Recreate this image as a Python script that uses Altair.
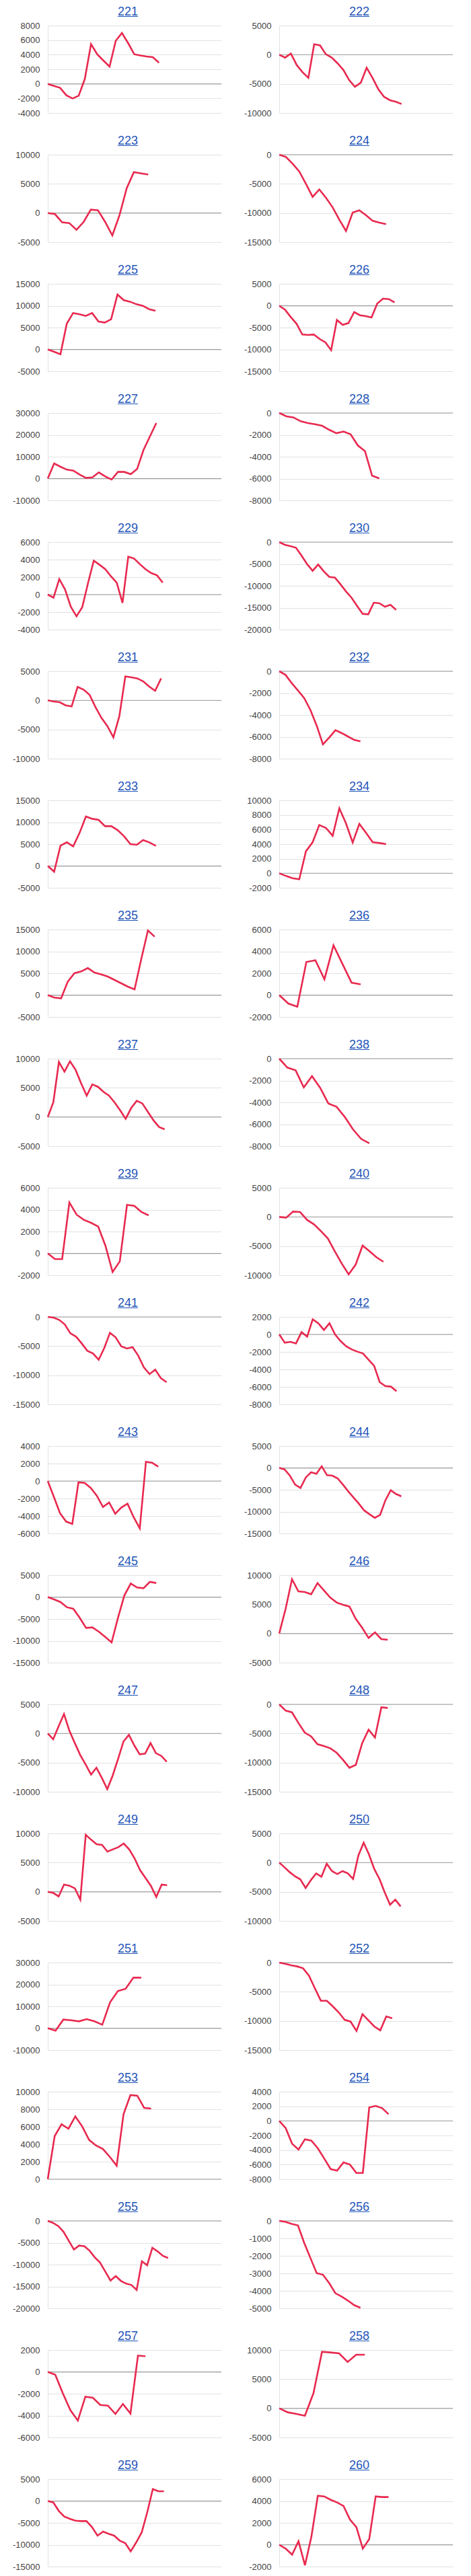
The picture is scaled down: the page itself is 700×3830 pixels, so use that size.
import altair as alt
import pandas as pd

panel_ids = list(range(221, 261))

s221 = [0, -280, -550, -1570, -2000, -1630, 680, 5450, 4060, 3200, 2370, 5900, 6980, 5600, 4060, 3900, 3750, 3660, 2900]
s222 = [0, -500, 190, -1770, -3000, -3960, 1800, 1600, 80, -500, -1460, -2600, -4350, -5500, -4800, -2230, -3960, -5900, -7230, -7800, -8080, -8460]
s223 = [0, -190, -1600, -1730, -2880, -1540, 580, 460, -1540, -3850, -380, 4230, 7000, 6800, 6600]
s224 = [0, -385, -1540, -2880, -5000, -7230, -5960, -7380, -9040, -11150, -13080, -9920, -9540, -10380, -11350, -11650, -11920]
s225 = [0, -540, -1100, 5870, 8330, 8030, 7670, 8330, 6380, 6130, 6900, 12540, 11260, 10900, 10330, 9970, 9200, 8850]
s226 = [0, -900, -2590, -4130, -6590, -6690, -6590, -7620, -8380, -10180, -3260, -4380, -3970, -1460, -2180, -2380, -2690, 490, 1620, 1510, 740]
s227 = [0, 6920, 5380, 4050, 3640, 1790, 260, 560, 2820, 970, -460, 3030, 3030, 2000, 4360, 13080, 19230, 25380]
s228 = [0, -310, -410, -760, -920, -1030, -1170, -1540, -1850, -1700, -1950, -2970, -3490, -5740, -5990]
s229 = [0, -360, 1770, 590, -1380, -2490, -1440, 1310, 3870, 3410, 2900, 2080, 1360, -950, 4330, 4130, 3490, 2900, 2460, 2200, 1360]
s230 = [0, -620, -920, -1280, -3080, -5030, -6560, -5130, -6670, -7950, -8100, -9640, -11280, -12720, -14620, -16410, -16510, -13850, -14000, -14770, -14360, -15490]
s231 = [0, -190, -310, -850, -1040, 2310, 1850, 960, -1150, -3000, -4420, -6350, -2690, 4120, 3960, 3770, 3270, 2380, 1650, 3770]
s232 = [0, -330, -1090, -1760, -2460, -3550, -4980, -6690, -6070, -5390, -5660, -5970, -6280, -6420]
s233 = [0, -1310, 4640, 5410, 4490, 7560, 11310, 10790, 10540, 9100, 9100, 8180, 6790, 5000, 4850, 5920, 5360, 4590]
s234 = [0, -370, -680, -830, 3020, 4250, 6620, 6220, 5140, 8920, 6830, 4220, 6770, 5540, 4250, 4150, 4000]
s235 = [0, -590, -740, 3100, 5000, 5410, 6180, 5150, 4740, 4230, 3460, 2690, 1920, 1310, 8230, 14790, 13360]
s236 = [0, -770, -1060, 3030, 3190, 1450, 4560, 2840, 1140, 990]
s237 = [0, 2500, 9420, 7770, 9540, 8080, 5770, 3650, 5580, 5190, 4310, 3650, 2500, 1150, -310, 1540, 2770, 2310, 850, -580, -1730, -2120]
s238 = [0, -820, -1070, -2630, -1600, -2670, -4100, -4410, -5330, -6460, -7340, -7750]
s239 = [0, -520, -520, 4650, 3540, 3070, 2800, 2450, 710, -1710, -730, 4440, 4360, 3790, 3480]
s240 = [0, -120, 920, 850, -500, -1270, -2420, -3690, -5880, -8000, -9850, -8190, -4920, -5880, -6920, -7690]
s241 = [0, -120, -500, -1270, -2810, -3380, -4540, -5810, -6270, -7350, -5310, -2730, -3500, -5040, -5420, -5190, -6650, -8650, -9810, -9040, -10500, -11190]
s242 = [0, -950, -850, -1030, 260, -260, 1720, 1280, 510, 1280, 0, -770, -1360, -1720, -1970, -2180, -2900, -3590, -5460, -5900, -5970, -6490]
s243 = [0, -1820, -3690, -4640, -4900, -150, -210, -790, -1690, -2970, -2460, -3740, -3030, -2590, -4130, -5410, 2200, 2100, 1640]
s244 = [0, -330, -1770, -3820, -4590, -2180, -1000, -1360, 380, -1670, -1770, -2380, -3820, -5360, -6790, -8180, -9720, -10590, -11410, -10740, -7410, -5100, -5970, -6490]
s245 = [0, -540, -1150, -2330, -2690, -4740, -7050, -6950, -7920, -9100, -10380, -4740, 380, 3100, 2180, 2030, 3460, 3210]
s246 = [0, 4230, 9310, 7230, 7120, 6730, 8650, 7380, 6150, 5310, 4920, 4620, 2500, 960, -770, 190, -960, -1080]
s247 = [0, -1000, 1230, 3350, 460, -1650, -3690, -5310, -7040, -5880, -7620, -9540, -7230, -4350, -1380, -230, -2040, -3580, -3460, -1650, -3380, -3850, -4850]
s248 = [0, -1080, -1380, -3190, -4850, -5500, -6850, -7150, -7540, -8310, -9540, -10880, -10380, -6650, -4350, -5690, -500, -620]
s249 = [0, -190, -810, 1230, 1040, 580, -1350, 9770, 8920, 8150, 8040, 6880, 7270, 7650, 8270, 7270, 5730, 3730, 2380, 1040, -880, 1230, 1120]
s250 = [0, -810, -1650, -2350, -2880, -4350, -3000, -1850, -2420, -190, -1460, -1960, -1460, -1850, -2810, 1230, 3420, 1420, -1080, -2810, -5120, -7230, -6350, -7500]
s251 = [0, -1180, 3950, 3640, 3130, 4150, 3130, 1590, 11850, 16970, 18000, 23130, 23130]
s252 = [0, -190, -460, -650, -960, -2230, -4420, -6540, -6540, -7500, -8540, -9810, -10120, -11730, -8850, -9920, -10960, -11620, -9230, -9540]
s253 = [0, 4920, 6280, 5770, 7180, 6030, 4490, 3850, 3460, 2560, 1540, 7440, 9620, 9540, 8150, 8080]
s254 = [0, -980, -3140, -3940, -2520, -2710, -3750, -5170, -6620, -6830, -5690, -6000, -7140, -7140, 1850, 2060, 1750, 920]
s255 = [0, -460, -1180, -2460, -4510, -6560, -5640, -5800, -6820, -8360, -9540, -11590, -13640, -12620, -13740, -14360, -14670, -15790, -9230, -10150, -6150, -6970, -8000, -8510]
s256 = [0, -60, -170, -260, -1260, -2130, -2990, -3080, -3560, -4140, -4330, -4560, -4820, -4970]
s257 = [0, -260, -1960, -3500, -4460, -2270, -2370, -3030, -3090, -3850, -2940, -3810, 1490, 1430]
s258 = [0, -690, -960, -1270, 2580, 9690, 9580, 9420, 7960, 9190, 9190]
s259 = [0, -330, -2280, -3560, -4080, -4490, -4590, -4590, -5970, -7920, -7000, -7510, -7920, -9050, -9620, -11510, -9470, -7150, -2540, 2740, 2230, 2230]
s260 = [0, -360, -910, 320, -1880, 730, 4480, 4420, 4110, 3870, 3540, 2310, 1610, -360, 520, 4420, 4360, 4360]

series = [s221, s222, s223, s224, s225, s226, s227, s228, s229, s230,
          s231, s232, s233, s234, s235, s236, s237, s238, s239, s240,
          s241, s242, s243, s244, s245, s246, s247, s248, s249, s250,
          s251, s252, s253, s254, s255, s256, s257, s258, s259, s260]

y_min = [-4000, -10000, -5000, -15000, -5000, -15000, -10000, -8000, -4000, -20000,
         -10000, -8000, -5000, -2000, -5000, -2000, -5000, -8000, -2000, -10000,
         -15000, -8000, -6000, -15000, -15000, -5000, -10000, -15000, -5000, -10000,
         -10000, -15000, 0, -8000, -20000, -5000, -6000, -5000, -15000, -2000]
y_max = [8000, 5000, 10000, 0, 15000, 5000, 30000, 0, 6000, 0,
         5000, 0, 15000, 10000, 15000, 6000, 10000, 0, 6000, 5000,
         0, 2000, 4000, 5000, 5000, 10000, 5000, 0, 10000, 5000,
         30000, 0, 10000, 4000, 0, 0, 2000, 10000, 5000, 6000]
y_step = [2000, 5000, 5000, 5000, 5000, 5000, 10000, 2000, 2000, 5000,
          5000, 2000, 5000, 2000, 5000, 2000, 5000, 2000, 2000, 5000,
          5000, 2000, 2000, 5000, 5000, 5000, 5000, 5000, 5000, 5000,
          10000, 5000, 2000, 2000, 5000, 1000, 2000, 5000, 5000, 2000]
x_slots = [28.1, 29.8, 24.2, 26.0, 27.4, 30.1, 27.2, 24.3, 30.2, 31.2,
           29.1, 27.8, 27.3, 26.0, 26.0, 19.2, 31.2, 21.2, 24.1, 25.0,
           30.7, 31.1, 28.3, 32.7, 27.2, 27.2, 32.1, 27.2, 32.0, 32.9,
           22.3, 29.2, 25.2, 27.0, 33.2, 27.8, 23.1, 20.3, 31.4, 27.0]

FONT = "Liberation Sans"
LINE = "#e8294f"
BLUE = "#1f55b8"
GRID = "#e2e2e2"
ZERO = "#9c9c9c"
W, H = 258, 130
TX = W / 2 - 10      # title centre, relative to plot area
TY = -15             # title baseline, relative to plot top

charts = []
for k, pid in enumerate(panel_ids):
    vals = series[k]
    df = pd.DataFrame({"i": list(range(len(vals))), "v": vals})
    ticks = list(range(y_min[k], y_max[k] + 1, y_step[k]))
    yscale = alt.Scale(domain=[y_min[k], y_max[k]], nice=False, zero=False)
    yaxis = alt.Axis(values=ticks, title=None, labelOverlap=False,
                     labelExpr="'' + datum.value")
    zero = alt.Chart(pd.DataFrame({"z": [0]})).mark_rule(color=ZERO, strokeWidth=1).encode(
        y=alt.Y("z:Q", scale=yscale, axis=yaxis)
    )
    line = alt.Chart(df).mark_line(color=LINE, strokeWidth=2.6).encode(
        x=alt.X("i:Q", scale=alt.Scale(domain=[0, x_slots[k]], nice=False, zero=False), axis=None),
        y=alt.Y("v:Q", scale=yscale, axis=yaxis),
    )
    tdf = pd.DataFrame({"name": [str(pid)]})
    title = alt.Chart(tdf).mark_text(
        font=FONT, fontSize=18, color=BLUE, align="center", baseline="alphabetic"
    ).encode(text="name:N", x=alt.value(TX), y=alt.value(TY))
    underline = alt.Chart(tdf).mark_rule(color=BLUE, strokeWidth=1).encode(
        x=alt.value(TX - 15), x2=alt.value(TX + 15), y=alt.value(TY + 1.5)
    )
    ch = alt.layer(zero, line, title, underline).properties(width=W, height=H)
    charts.append(ch)

chart = alt.concat(*charts, columns=2, spacing={"row": 26, "column": 32}).properties(
    padding={"left": 10, "top": 1, "right": 0, "bottom": 0}
).configure_view(stroke=None).configure_axis(
    labelFont=FONT, labelFontSize=13, labelColor="#444444", labelPadding=12,
    ticks=False, tickSize=0, domain=True, domainColor=GRID, grid=True,
    gridColor=GRID, gridWidth=1,
)

chart.save("out.html", embed_options={"renderer": "svg", "actions": False})
